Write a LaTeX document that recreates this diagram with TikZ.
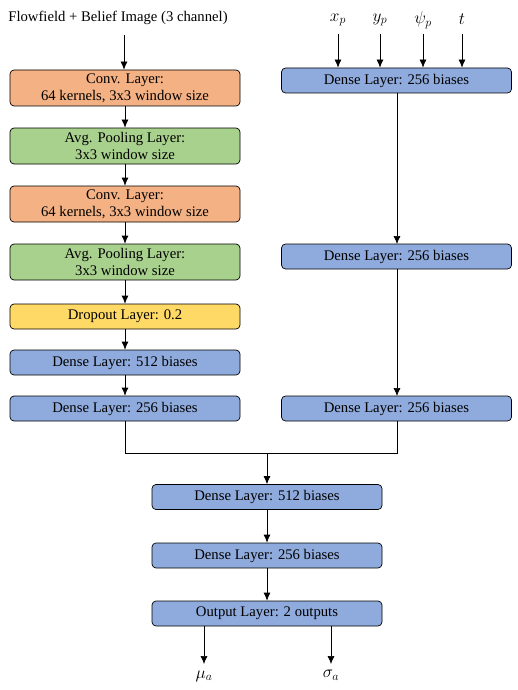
\documentclass[tikz,border=0pt]{standalone}
\usepackage{fontspec}
\setmainfont{Liberation Serif}
\usetikzlibrary{arrows.meta}
\definecolor{convc}{HTML}{F4B183}
\definecolor{poolc}{HTML}{A9D18E}
\definecolor{dropc}{HTML}{FFD966}
\definecolor{densec}{HTML}{8FAADC}
\begin{document}
\begin{tikzpicture}[x=1pt,y=-1pt,
  layer/.style={draw=black,line width=0.7pt,rounded corners=4pt,minimum width=230pt,
    align=center,font=\fontsize{14.7}{17}\selectfont,inner sep=0pt},
  tall/.style={layer,minimum height=36pt},
  short/.style={layer,minimum height=25pt},
  conv/.style={tall,fill=convc},
  pool/.style={tall,fill=poolc},
  drop/.style={short,fill=dropc},
  dense/.style={short,fill=densec},
  arr/.style={-{Latex[length=8pt,width=7pt]},line width=0.7pt},
  lab/.style={font=\fontsize{14.7}{17}\selectfont,inner sep=1pt},
  mlab/.style={font=\fontsize{17}{19}\selectfont,inner sep=1pt}]
\useasboundingbox (0,0) rectangle (517,690);
% image branch
\node[lab] (img) at (118,18) {Flowfield + Belief Image (3 channel)};
\node[conv] (c1) at (125,88) {Conv. Layer:\\64 kernels, 3x3 window size};
\node[pool] (p1) at (125,146) {Avg. Pooling Layer:\\3x3 window size};
\node[conv] (c2) at (125,204) {Conv. Layer:\\64 kernels, 3x3 window size};
\node[pool] (p2) at (125,262) {Avg. Pooling Layer:\\3x3 window size};
\node[drop] (dr) at (125,316.5) {Dropout Layer: 0.2};
\node[dense] (l512) at (125,362.5) {Dense Layer: 512 biases};
\node[dense] (l256) at (125,408.5) {Dense Layer: 256 biases};
% state branch
\node[mlab] (xp) at (338,20) {$x_p$};
\node[mlab] (yp) at (380,20) {$y_p$};
\node[mlab] (pp) at (423,20) {$\psi_p$};
\node[mlab] (tt) at (462,19) {$t$};
\node[dense] (r1) at (396.5,80.5) {Dense Layer: 256 biases};
\node[dense] (r2) at (396.5,256.5) {Dense Layer: 256 biases};
\node[dense] (r3) at (396.5,408.5) {Dense Layer: 256 biases};
% merged head
\node[dense] (m1) at (267,497) {Dense Layer: 512 biases};
\node[dense] (m2) at (267,555.5) {Dense Layer: 256 biases};
\node[dense] (out) at (267,613.5) {Output Layer: 2 outputs};
\node[mlab] (mu) at (204,676) {$\mu_a$};
\node[mlab] (sg) at (331,675) {$\sigma_a$};
\coordinate (join) at (267,453);
% connectors
\draw[arr] (124,35) -- (c1.north -| 124,0);
\draw[arr] (c1) -- (p1);
\draw[arr] (p1) -- (c2);
\draw[arr] (c2) -- (p2);
\draw[arr] (p2) -- (dr);
\draw[arr] (dr) -- (l512);
\draw[arr] (l512) -- (l256);
\foreach \n in {xp,yp,pp,tt}
  \draw[arr] (\n.south |- 0,34) -- (\n.south |- r1.north);
\draw[arr] (397,93) -- (397,244);
\draw[arr] (397,269) -- (397,396);
\draw[line width=0.7pt] (l256.south) -- (l256.south |- join) -- (397,453) -- (397,421);
\draw[arr] (join) -- (m1);
\draw[arr] (m1) -- (m2);
\draw[arr] (m2) -- (out);
\draw[arr] (204,626) -- (204,664);
\draw[arr] (331,626) -- (331,664);
\end{tikzpicture}
\end{document}
